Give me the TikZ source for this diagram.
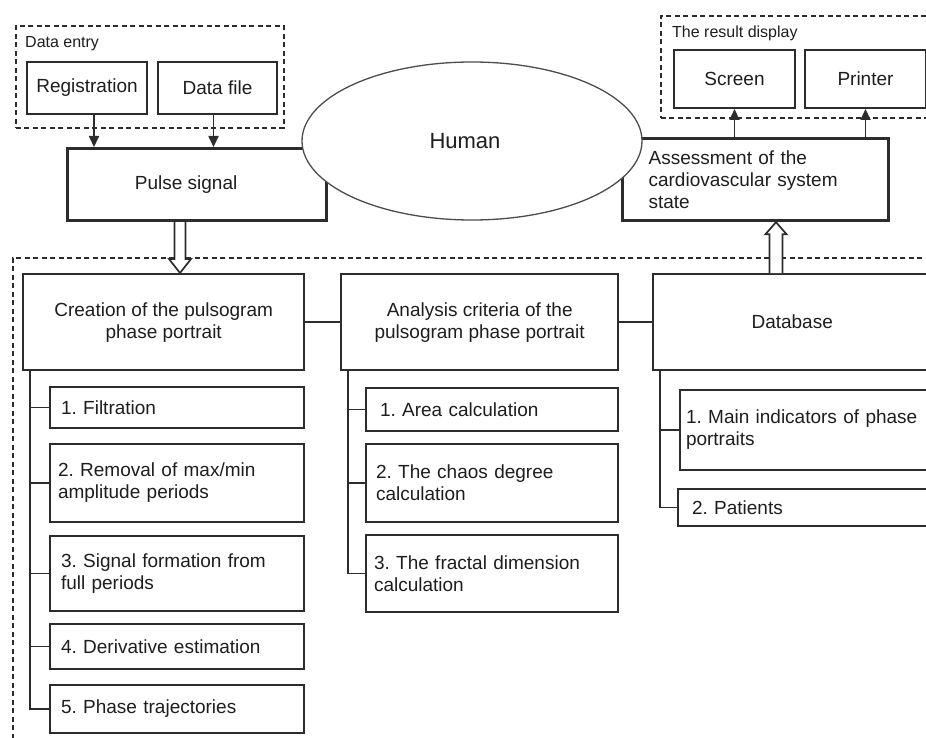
\documentclass[tikz,border=0pt]{standalone}
\usepackage{fontspec}
\setmainfont{Liberation Sans}
\usetikzlibrary{arrows.meta,calc,shapes.geometric}
\definecolor{ln}{HTML}{2C2C2C}
\definecolor{tx}{HTML}{1E1E1E}
\frenchspacing
\tikzset{
  body/.style={font=\fontsize{19}{22}\selectfont, text=tx},
  lbl/.style={font=\fontsize{16}{19}\selectfont, text=tx, anchor=west, inner sep=0pt},
  thickbox/.style={draw=ln, line width=3.2pt, anchor=north west, inner sep=0pt, body},
  mainbox/.style={draw=ln, line width=2.4pt, anchor=north west, inner sep=0pt, body, align=center},
  itembox/.style={draw=ln, line width=2pt, anchor=north west, inner ysep=0pt, body, align=left},
  smallbox/.style={draw=ln, line width=2pt, anchor=north west, inner sep=0pt, body},
  groupbox/.style={draw=ln, line width=1.7pt, dash pattern=on 5pt off 3.5pt, anchor=north west, inner sep=0pt},
  tree/.style={draw=ln, line width=1.9pt},
  arr/.style={draw=ln, line width=1.7pt, -{Triangle[length=11pt,width=10pt]}},
  hollow/.style={draw=ln, line width=1.7pt, fill=white, line join=miter},
}
\begin{document}
\begin{tikzpicture}[x=1pt,y=-1pt]
\useasboundingbox (0,0) rectangle (926,738);
\fill[white] (0,0) rectangle (926,738);
\clip (0,0) rectangle (926,738);

% groups
\node[groupbox, minimum width=268pt, minimum height=102pt] (deg) at (15,25) {};
\node[lbl] (delbl) at (25,44) {Data entry};
\node[groupbox, minimum width=290pt, minimum height=102pt] (rdg) at (660,15) {};
\node[lbl] (rdlbl) at (672,33) {The result display};
\node[groupbox, minimum width=940pt, minimum height=500pt] (big) at (12,257) {};

% top boxes
\node[smallbox, minimum width=120pt, minimum height=52pt] (reg) at (26,61) {Registration};
\node[smallbox, minimum width=119pt, minimum height=52pt] (df) at (157,61) {Data file};
\node[thickbox, minimum width=259pt, minimum height=72pt] (ps) at (66,147) {\hspace*{-22pt}Pulse signal};
\node[smallbox, minimum width=121pt, minimum height=58pt] (scr) at (673,49) {Screen};
\node[smallbox, minimum width=121pt, minimum height=58pt] (prn) at (804,49) {Printer};
\node[thickbox, minimum width=266pt, minimum height=82pt, inner xsep=26pt, text width=214pt, align=left] (as) at (621,137)
  {Assessment of the\\cardiovascular system\\state};

% arrows top
\draw[arr] ([xshift=7pt]reg.south) -- ([xshift=7pt]reg.south |- ps.north);
\draw[arr] ([xshift=-4pt]df.south) -- ([xshift=-4pt]df.south |- ps.north);
\draw[arr] (scr.south |- as.north) -- (scr.south);
\draw[arr] (prn.south |- as.north) -- (prn.south);

% main boxes
\node[mainbox, minimum width=281pt, minimum height=96pt] (cr) at (22,273) {Creation of the pulsogram\\phase portrait};
\node[mainbox, minimum width=277pt, minimum height=96pt] (an) at (340,273) {Analysis criteria of the\\pulsogram phase portrait};
\node[mainbox, minimum width=278pt, minimum height=96pt] (db) at (652,273) {Database};
\draw[tree, line width=2.1pt] (cr.east) -- (cr.east -| an.west);
\draw[tree, line width=2.1pt] (an.east) -- (an.east -| db.west);

% left items
\node[itembox, inner xsep=11pt, text width=232pt, minimum height=41pt] (f1) at (49,386) {1. Filtration};
\node[itembox, inner xsep=8pt, text width=238pt, minimum height=78pt] (f2) at (49,443) {2. Removal of max/min\\amplitude periods};
\node[itembox, inner xsep=11pt, text width=232pt, minimum height=75pt] (f3) at (49,535) {3. Signal formation from\\full periods};
\node[itembox, inner xsep=11pt, text width=232pt, minimum height=45pt] (f4) at (49,623) {4. Derivative estimation};
\node[itembox, inner xsep=11pt, text width=232pt, minimum height=48pt] (f5) at (49,684) {5. Phase trajectories};
\coordinate (tl) at ([xshift=8pt]cr.south west);
\draw[tree] (tl) |- (f5.west);
\foreach \n in {f1,f2,f3,f4} \draw[tree] (tl |- \n.west) -- (\n.west);

% middle items
\node[itembox, inner xsep=14pt, text width=224pt, minimum height=43pt] (a1) at (365,387) {1. Area calculation};
\node[itembox, inner xsep=10pt, text width=232pt, minimum height=78pt] (a2) at (365,443) {2. The chaos degree\\calculation};
\node[itembox, inner xsep=8pt, text width=236pt, minimum height=77pt] (a3) at (365,534) {3. The fractal dimension\\calculation};
\coordinate (tm) at ([xshift=8pt]an.south west);
\draw[tree] (tm) |- (a3.west);
\foreach \n in {a1,a2} \draw[tree] (tm |- \n.west) -- (\n.west);

% right items
\node[itembox, inner xsep=6pt, text width=248pt, minimum height=80pt] (d1) at (679,389) {1. Main indicators of phase\\portraits};
\node[itembox, inner xsep=14pt, text width=234pt, minimum height=37pt] (d2) at (677,488) {2. Patients};
\coordinate (tr) at ([xshift=8pt]db.south west);
\draw[tree] (tr) |- (d2.west);
\draw[tree] (tr |- d1.west) -- (d1.west);

% hollow arrows
\coordinate (dtop) at ([xshift=114pt]ps.south west);
\coordinate (dtip) at (dtop |- cr.north);
\draw[hollow] ($(dtop)+(-5.5,0)$) -- ($(dtip)+(-5.5,-14)$) -- ($(dtip)+(-11,-14)$) -- (dtip)
  -- ($(dtip)+(11,-14)$) -- ($(dtip)+(5.5,-14)$) -- ($(dtop)+(5.5,0)$);
\coordinate (ubot) at ([xshift=124pt]db.north west);
\coordinate (utip) at (ubot |- as.south);
\draw[hollow] ($(ubot)+(-6.5,0)$) -- ($(utip)+(-6.5,12)$) -- ($(utip)+(-10.5,12)$) -- (utip)
  -- ($(utip)+(10.5,12)$) -- ($(utip)+(6.5,12)$) -- ($(ubot)+(6.5,0)$);

% ellipse
\node[ellipse, draw=ln!85, line width=1.3pt, fill=white, minimum width=340pt, minimum height=158pt, inner sep=0pt,
  font=\fontsize{22}{26}\selectfont, text=tx] (hum) at (472,141) {\hspace*{-14pt}Human};
\end{tikzpicture}
\end{document}
